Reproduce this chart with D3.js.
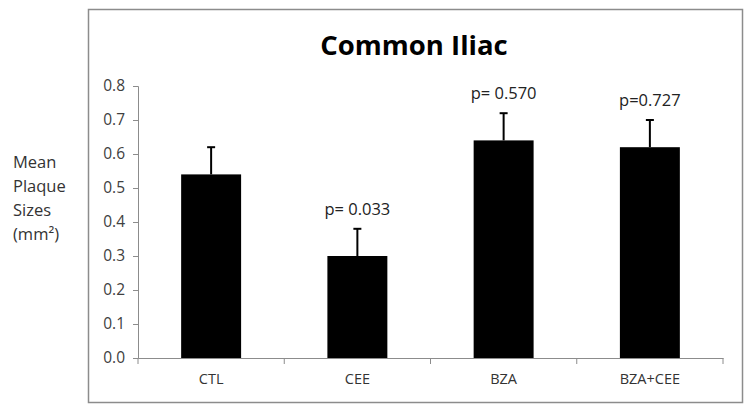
<!DOCTYPE html>
<html><head><meta charset="utf-8">
<script src="https://cdn.jsdelivr.net/npm/d3@7"></script>
<style>body{margin:0;background:#fff}svg{display:block}text{font-family:"Open Sans","Noto Sans",sans-serif}</style>
</head><body><svg id="c" width="750" height="413"></svg>
<script>
const categories = ["CTL","CEE","BZA","BZA+CEE"];
const means = [0.54, 0.30, 0.64, 0.62];
const errors = [0.08, 0.08, 0.08, 0.08];
const pLabels = ["", "p= 0.033", "p= 0.570", "p=0.727"];
const yTicks = [0,0.1,0.2,0.3,0.4,0.5,0.6,0.7,0.8];
const title = "Common Iliac";
const yLabel = ["Mean","Plaque","Sizes","(mm²)"];

const svg = d3.select("#c");
svg.append("rect").attr("x",88.5).attr("y",9.5).attr("width",654).attr("height",393)
  .attr("fill","#fff").attr("stroke","#8c8c8c").attr("stroke-width",1.5);

const x = d3.scaleBand().domain(categories).range([138,723]).paddingInner(0.59).paddingOuter(0.295);
const y = d3.scaleLinear().domain([0,0.8]).range([358,86]);

svg.append("text").attr("x",414).attr("y",55).attr("text-anchor","middle")
  .attr("font-size",27.5).attr("font-weight","bold").attr("fill","#000").text(title);

yLabel.forEach((t,i)=>svg.append("text").attr("x",13).attr("y",168+i*24)
  .attr("font-size",16.5).attr("fill","#333").text(t));

const ya = svg.append("g").attr("transform","translate(138,0)")
  .call(d3.axisLeft(y).tickValues(yTicks).tickFormat(d3.format(".1f")).tickSize(5).tickPadding(8));
ya.select(".domain").attr("stroke","#8c8c8c");
ya.selectAll(".tick line").attr("stroke","#8c8c8c");
ya.selectAll("text").attr("font-size",15.5).attr("fill","#404040");

const xa = svg.append("g").attr("transform","translate(0,358)")
  .call(d3.axisBottom(x).tickSize(0).tickPadding(16));
xa.select(".domain").attr("stroke","#8c8c8c");
xa.selectAll("text").attr("font-size",14.5).attr("fill","#333");
// category separator ticks
const bounds = [138].concat(categories.map(c=>x(c)+x.bandwidth()+x.step()*x.paddingInner()/2));
svg.selectAll(".sep").data(bounds).enter().append("line")
  .attr("x1",d=>d).attr("x2",d=>d).attr("y1",358).attr("y2",364).attr("stroke","#8c8c8c");

svg.selectAll(".bar").data(categories).enter().append("rect")
  .attr("x",d=>x(d)).attr("width",x.bandwidth())
  .attr("y",(d,i)=>y(means[i])).attr("height",(d,i)=>y(0)-y(means[i])).attr("fill","#000");

svg.selectAll(".err").data(categories).enter().append("line")
  .attr("x1",d=>x(d)+x.bandwidth()/2).attr("x2",d=>x(d)+x.bandwidth()/2)
  .attr("y1",(d,i)=>y(means[i])).attr("y2",(d,i)=>y(means[i]+errors[i]))
  .attr("stroke","#000").attr("stroke-width",2);
svg.selectAll(".cap").data(categories).enter().append("line")
  .attr("x1",d=>x(d)+x.bandwidth()/2-4).attr("x2",d=>x(d)+x.bandwidth()/2+4)
  .attr("y1",(d,i)=>y(means[i]+errors[i])).attr("y2",(d,i)=>y(means[i]+errors[i]))
  .attr("stroke","#000").attr("stroke-width",2);

svg.selectAll(".p").data(categories).enter().append("text")
  .attr("x",d=>x(d)+x.bandwidth()/2).attr("y",(d,i)=>y(means[i]+errors[i])-14)
  .attr("text-anchor","middle").attr("font-size",16.5).attr("fill","#222")
  .text((d,i)=>pLabels[i]);
</script></body></html>
